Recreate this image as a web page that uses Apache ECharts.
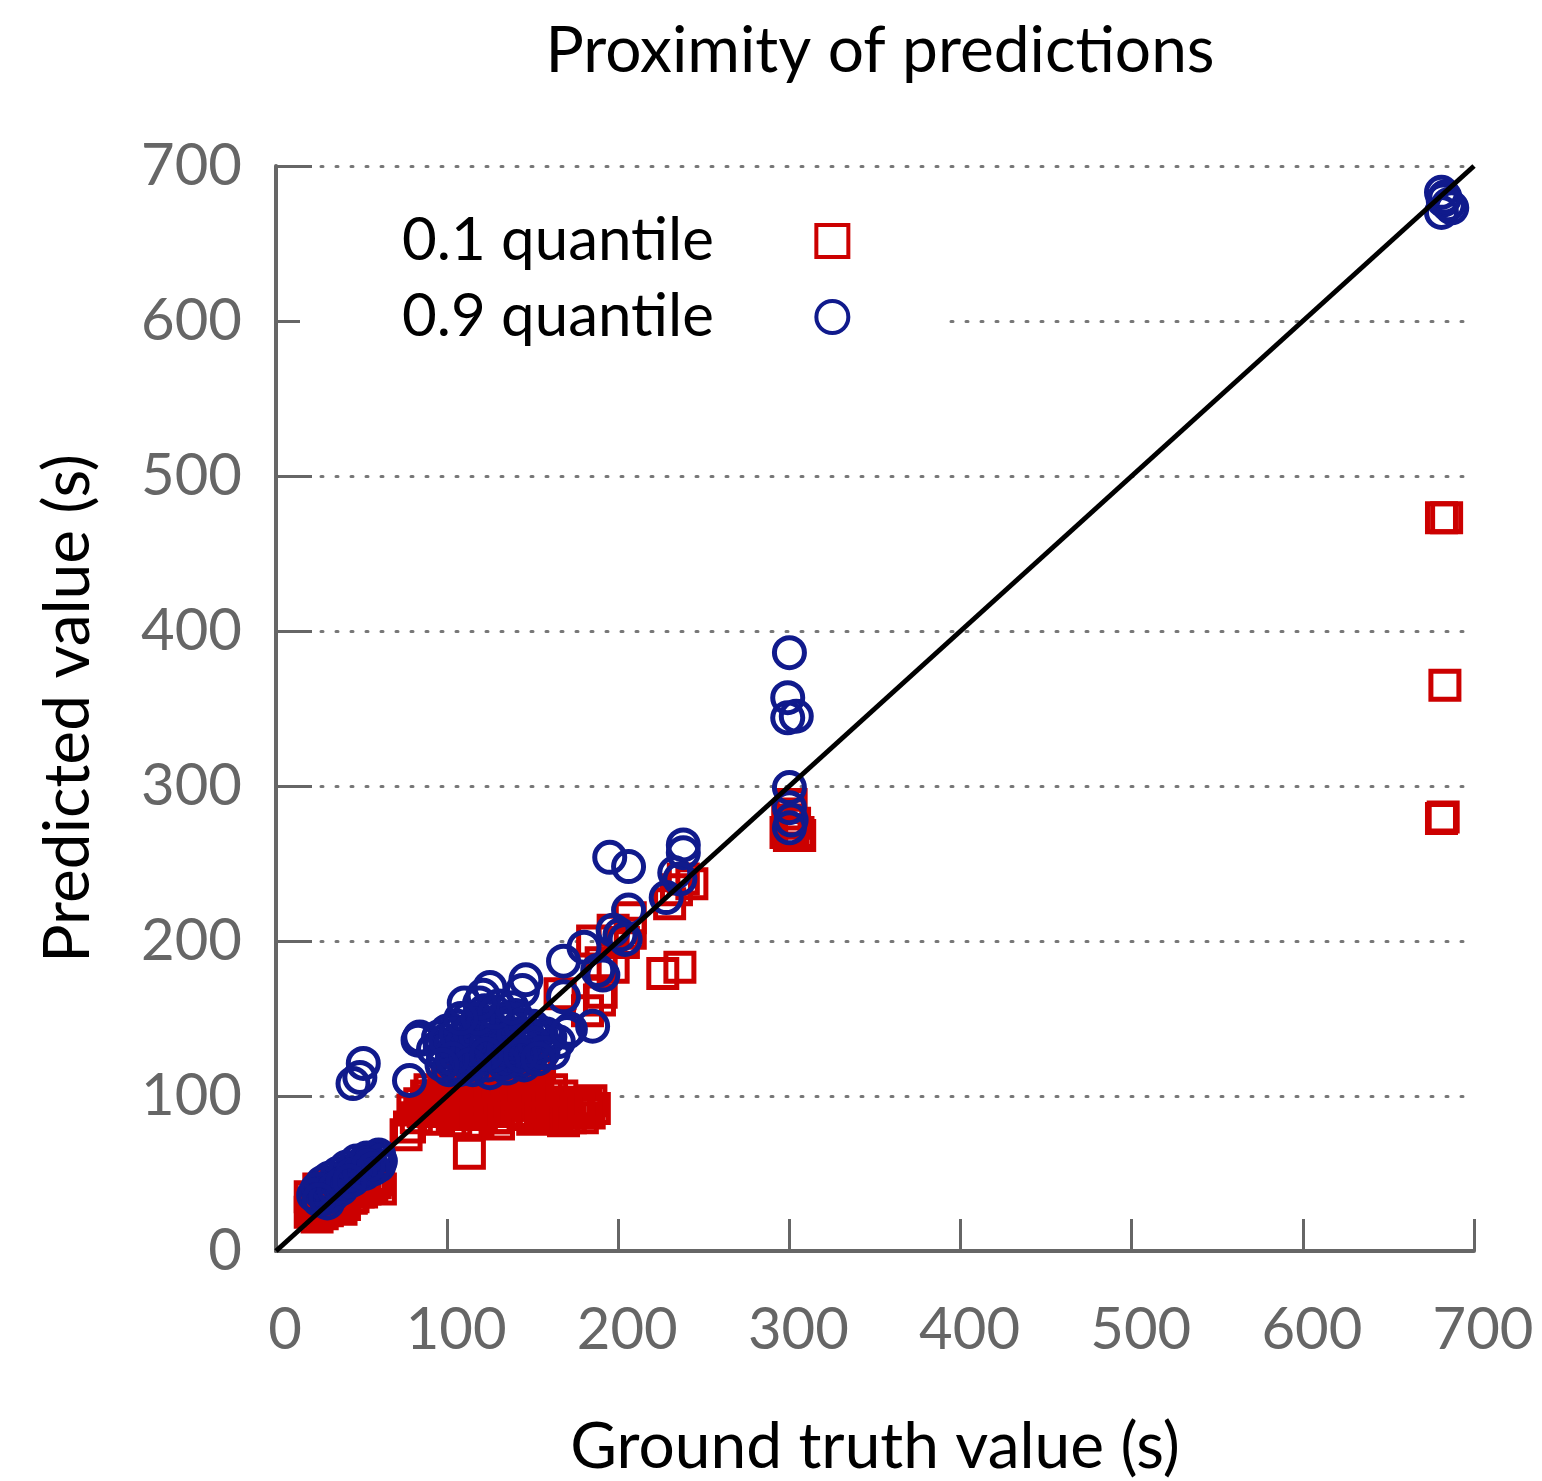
<!DOCTYPE html>
<html>
<head>
<meta charset="utf-8">
<script src="https://cdn.jsdelivr.net/npm/echarts@6/dist/echarts.min.js"></script>
<style>html,body{margin:0;padding:0;background:#fff}#c{width:1542px;height:1481px}</style>
</head>
<body>
<div id="c"></div>
<script>
const xTicks = [0, 100, 200, 300, 400, 500, 600, 700];
const yTicks = [0, 100, 200, 300, 400, 500, 600, 700];
const seriesNames = ['0.1 quantile', '0.9 quantile'];

// 0.1 quantile predictions [ground truth, predicted]
const q10 = [
  [20,25],[22,30],[24,22],[26,28],[28,33],[30,26],[32,35],[34,30],[36,38],[38,32],
  [40,36],[42,40],[44,34],[46,42],[48,38],[50,45],[52,40],[55,48],[58,44],[60,46],
  [25,40],[30,42],[35,44],[20,35],[22,26],[27,24],[33,28],[40,30],[45,35],[50,38],
  [56,42],[61,40],[38,27],[29,38],[24,32],
  [76,75],[78,80],[80,91],[84,95],[88,100],[92,97],[95,92],[98,104],[100,96],[103,88],
  [105,100],[108,94],[110,106],[112,90],[113,63],[115,98],[118,102],[120,88],[122,95],
  [124,108],[126,92],[128,100],[130,86],[132,104],[134,96],[136,112],[138,90],[140,100],
  [142,94],[144,106],[146,88],[148,117],[150,98],[152,119],[152,105],[155,92],[158,100],
  [160,88],[163,90],[165,96],[168,84],[170,92],[175,94],[179,86],[183,89],[184,97],[186,92],
  [120,110],[125,115],[135,120],[140,125],[130,118],[115,112],[100,110],[90,104],[95,85],
  [105,84],[118,83],[130,82],
  [86,90],[90,95],[94,100],[97,90],[101,93],[104,97],[107,102],[109,88],[111,96],[114,104],
  [116,92],[119,97],[121,101],[123,90],[125,98],[127,104],[129,94],[131,99],[133,90],
  [135,102],[137,96],[139,106],[141,90],[143,98],[145,102],[147,94],[149,108],[151,90],
  [153,100],[156,96],[159,93],[161,104],[164,87],[167,100],[172,86],[177,92],[181,95],
  [110,100],[120,104],[130,108],[140,112],[145,96],[150,85],[155,86],[128,86],[117,88],
  [102,104],[96,97],[88,94],[82,86],
  [189,162],[182,155],[166,166],[154,121],[190,186],[190,167],[197,183],[185,200],
  [203,199],[207,205],[197,207],[207,215],[230,224],[234,233],[243,237],[226,179],[236,183],[238,240],
  [298,270],[300,268],[302,272],[305,270],[306,268],[300,282],[301,288],[299,278],[303,276],
  [681,473],[684,473],[683,365],[681,279],[682,280]
];

// 0.9 quantile predictions [ground truth, predicted]
const q90 = [
  [26,38],[28,40],[30,36],[32,42],[35,45],[38,47],[40,48],[42,50],[45,52],[48,54],
  [50,56],[55,58],[58,60],[60,62],[30,31],[33,36],[38,40],[45,46],[52,50],[27,44],
  [31,47],[36,50],[41,54],[47,58],[53,60],[60,55],[61,58],[24,40],[22,36],[29,34],
  [34,40],[39,44],[44,49],[49,51],[54,55],[57,53],[25,33],[43,45],
  [49,112],[51,121],[45,108],[83,136],[78,110],[84,138],
  [92,130],[95,138],[98,125],[100,142],[102,133],[104,120],[106,145],[108,128],[110,138],
  [112,150],[114,125],[116,135],[118,143],[120,130],[122,155],[124,120],[126,140],[128,132],
  [130,148],[132,125],[134,138],[136,145],[138,130],[140,152],[142,122],[144,140],[146,135],
  [148,128],[150,145],[152,138],[155,132],[158,140],[160,138],[162,128],[165,135],
  [107,117],[115,117],[125,115],[135,118],[145,120],[110,160],[121,165],[125,170],[144,168],
  [146,175],[130,158],[101,117],[137,123],
  [96,132],[99,136],[103,128],[105,140],[109,134],[111,126],[113,142],[115,130],[117,138],
  [119,124],[121,146],[123,134],[127,126],[129,142],[131,136],[133,130],[135,150],[137,134],
  [139,140],[141,128],[143,146],[145,132],[147,140],[149,126],[151,134],[153,142],[156,128],
  [103,124],[113,120],[123,127],[133,121],[143,126],[153,124],[118,150],[128,154],[138,157],
  [119,160],[97,120],[108,150],
  [172,143],[170,141],[185,145],[168,164],[168,187],[180,196],[188,181],[191,178],
  [201,204],[204,201],[197,207],[206,220],[195,254],[206,248],[228,228],[233,244],
  [238,257],[238,262],[236,240],
  [300,386],[299,357],[299,344],[304,345],[300,299],[300,286],[300,273],[301,278],
  [681,683],[682,678],[687,673],[681,670],[683,680],[685,675]
];

const diagonal = [[0,0],[700,700]];

const RED = '#cc0000', BLUE = '#101a8c', GRAY = '#666666';
const FONT = 'Lato, "Open Sans", sans-serif';

const chart = echarts.init(document.getElementById('c'));
chart.setOption({
  backgroundColor: '#fff',
  animation: false,
  title: {
    text: 'Proximity of predictions',
    left: 875, top: 14, textAlign: 'center',
    textStyle: { fontFamily: FONT, fontSize: 64, fontWeight: 'normal', color: '#000' }
  },
  grid: { left: 276, right: 68, top: 166, bottom: 230, outerBoundsMode: 'none', containLabel: false },
  legend: {
    data: [
      { name: seriesNames[0], itemStyle: { color: 'rgba(0,0,0,0)', borderColor: RED, borderWidth: 4 } },
      { name: seriesNames[1], itemStyle: { color: 'rgba(0,0,0,0)', borderColor: BLUE, borderWidth: 4 } }
    ],
    orient: 'vertical',
    align: 'right',
    left: 300, top: 205,
    itemWidth: 32, itemHeight: 32, itemGap: 16,
    backgroundColor: '#fff',
    padding: [6, 90, 10, 102],
    formatter: name => name + '\u2003\u2002\u2009\u2009\u200A\u200A',
    textStyle: { fontFamily: FONT, fontSize: 60, color: '#000' }
  },
  xAxis: {
    type: 'value', min: 0, max: 700, interval: 100,
    name: 'Ground truth value (s)', nameLocation: 'middle', nameGap: 164,
    nameTextStyle: { fontFamily: FONT, fontSize: 64, color: '#000' },
    axisLine: { lineStyle: { color: GRAY, width: 4 } },
    axisTick: { inside: true, length: 32, lineStyle: { color: GRAY, width: 3 } },
    axisLabel: { margin: 50, fontFamily: FONT, fontSize: 58, color: GRAY, padding: [0, 0, 0, 18],
      formatter: v => xTicks.includes(v) ? String(v) : '' },
    splitLine: { show: false }
  },
  yAxis: {
    type: 'value', min: 0, max: 700, interval: 100,
    name: 'Predicted value (s)', nameLocation: 'middle', nameGap: 176, nameRotate: 90,
    nameTextStyle: { fontFamily: FONT, fontSize: 64, color: '#000' },
    axisLine: { show: true, lineStyle: { color: GRAY, width: 4 } },
    axisTick: { show: true, inside: true, length: 36, lineStyle: { color: GRAY, width: 3 } },
    axisLabel: { margin: 34, fontFamily: FONT, fontSize: 58, color: GRAY,
      formatter: v => yTicks.includes(v) ? String(v) : '' },
    splitLine: { show: true, lineStyle: { color: '#777', width: 3, type: [2, 13], cap: 'round' } }
  },
  series: [
    {
      name: seriesNames[0], type: 'scatter', data: q10,
      symbol: 'rect', symbolSize: 28, z: 3,
      itemStyle: { color: 'rgba(0,0,0,0)', borderColor: RED, borderWidth: 5, opacity: 1 }
    },
    {
      name: seriesNames[1], type: 'scatter', data: q90,
      symbol: 'circle', symbolSize: 30, z: 4,
      itemStyle: { color: 'rgba(0,0,0,0)', borderColor: BLUE, borderWidth: 5, opacity: 1 }
    },
    {
      name: 'diagonal', type: 'line', data: diagonal, symbol: 'none', z: 5,
      lineStyle: { color: '#000', width: 5 }, silent: true
    }
  ]
});
</script>
</body>
</html>
